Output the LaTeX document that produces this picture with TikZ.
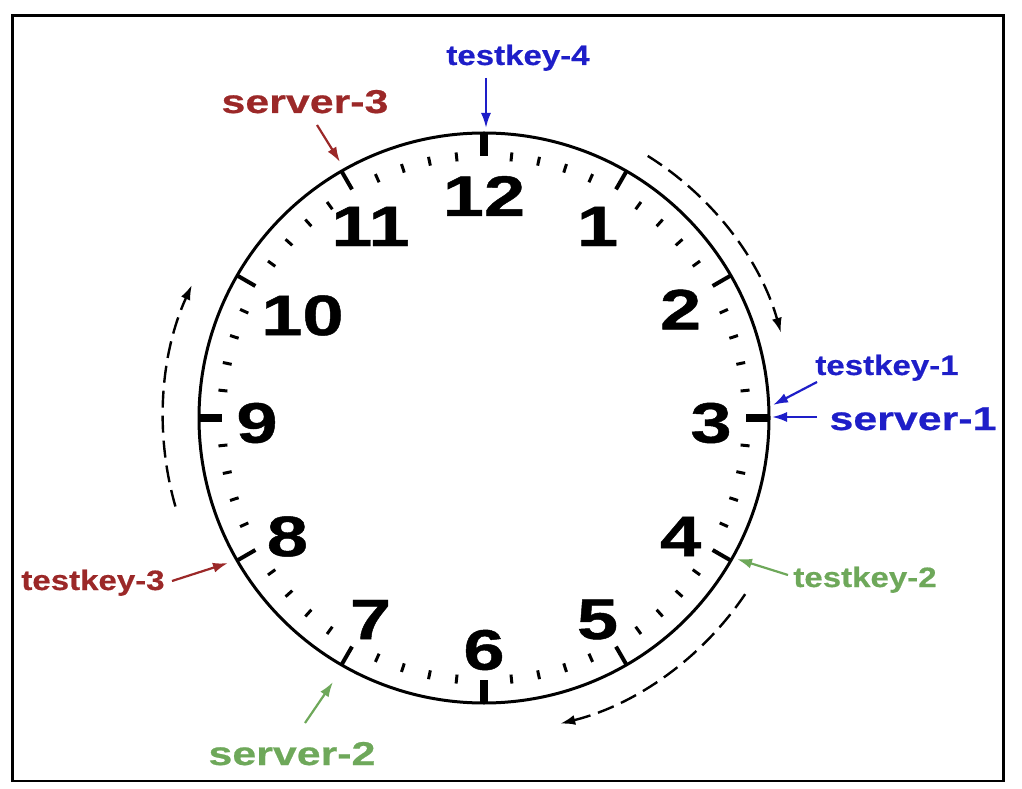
\documentclass[tikz,border=0pt]{standalone}
\usepackage{fontspec}
\newfontfamily\numfont{Liberation Sans}[FakeStretch=1.3,FakeBold=0.8]
\newfontfamily\srvfont{Liberation Sans}[FakeStretch=1.3,FakeBold=0.6]
\newfontfamily\keyfont{Liberation Sans}[FakeStretch=1.18,FakeBold=0.5]
\usetikzlibrary{arrows.meta,calc}
\definecolor{kred}{RGB}{155,40,40}
\definecolor{kblue}{RGB}{30,30,200}
\definecolor{kgreen}{RGB}{110,168,90}
\begin{document}
\begin{tikzpicture}[x=1pt,y=1pt,
  num/.style={font=\numfont\bfseries\fontsize{57}{57}\selectfont, inner sep=0},
  srv/.style={font=\srvfont\bfseries\fontsize{33}{33}\selectfont, inner sep=0, anchor=base},
  key/.style={font=\keyfont\bfseries\fontsize{28}{28}\selectfont, inner sep=0, anchor=base},
  ptr/.style={line width=2.2, -{Latex[length=15,width=10]}},
  rot/.style={line width=2.4, dash pattern=on 17 off 8, -{Latex[length=15,width=10]}},
]
\useasboundingbox (0,0) rectangle (1022,788);
\node[draw, line width=2.5, minimum width=991, minimum height=765, inner sep=0, anchor=south west] (frame) at (11,6) {};
% clock
\coordinate (C) at (484,370);
\node[circle, draw, line width=3, minimum size=570, inner sep=0] (clock) at (C) {};
\foreach \m in {0,...,59}{
  \pgfmathtruncatemacro\q{mod(\m,15)}
  \pgfmathtruncatemacro\h{mod(\m,5)}
  \pgfmathsetmacro\a{90-6*\m}
  \ifnum\q=0
    \draw[line width=8] ($(C)+(\a:285)$) -- ($(C)+(\a:262)$);
  \else\ifnum\h=0
    \draw[line width=4] ($(C)+(\a:285)$) -- ($(C)+(\a:264)$);
  \else
    \draw[line width=3] ($(C)+(\a:258)$) -- ($(C)+(\a:267)$);
  \fi\fi
}
\foreach \n/\dx/\dy in {1/0/0,2/0/0,3/0/0,4/0/0,5/0/0,6/0/0,7/0/0,8/0/0,9/0/0,10/15/-6,11/0/0,12/0/0}{
  \node[num] (n\n) at ($(C)+({90-30*\n}:227)+(\dx,\dy-5)$) {\n};
}
% rotation arcs
\draw[rot] ($(C)+(58:309)$) arc[start angle=58, end angle=16, radius=309];
\draw[rot] ($(C)+(-34:315)$) arc[start angle=-34, end angle=-76, radius=315];
\draw[rot] ($(C)+(196:321)$) arc[start angle=196, end angle=155.5, radius=321];
% labels
\node[key, text=kblue] (k4) at (518,723) {testkey-4};
\node[srv, text=kred] (s3) at (305,675) {server-3};
\node[key, text=kblue] (k1) at (887,413) {testkey-1};
\node[srv, text=kblue] (s1) at (913,358) {server-1};
\node[key, text=kred] (k3) at (93,198) {testkey-3};
\node[key, text=kgreen] (k2) at (865,201) {testkey-2};
\node[srv, text=kgreen] (s2) at (292,23) {server-2};
% arrow ends
\coordinate (k4a) at (486,710); \coordinate (k4b) at (486,660);
\coordinate (s3a) at (317,663); \coordinate (s3b) at (340,626);
\coordinate (k1a) at (817,406); \coordinate (k1b) at (773,383);
\coordinate (s1a) at (817,371); \coordinate (s1b) at (772,371);
\coordinate (k3a) at (172,207); \coordinate (k3b) at (228,225);
\coordinate (k2a) at (788,213); \coordinate (k2b) at (737,229);
\coordinate (s2a) at (305,65);  \coordinate (s2b) at (333,106);
\draw[ptr, kblue] (k4a) -- (k4b);
\draw[ptr, kred] (s3a) -- (s3b);
\draw[ptr, kblue] (k1a) -- (k1b);
\draw[ptr, kblue] (s1a) -- (s1b);
\draw[ptr, kred] (k3a) -- (k3b);
\draw[ptr, kgreen] (k2a) -- (k2b);
\draw[ptr, kgreen] (s2a) -- (s2b);
\end{tikzpicture}
\end{document}
